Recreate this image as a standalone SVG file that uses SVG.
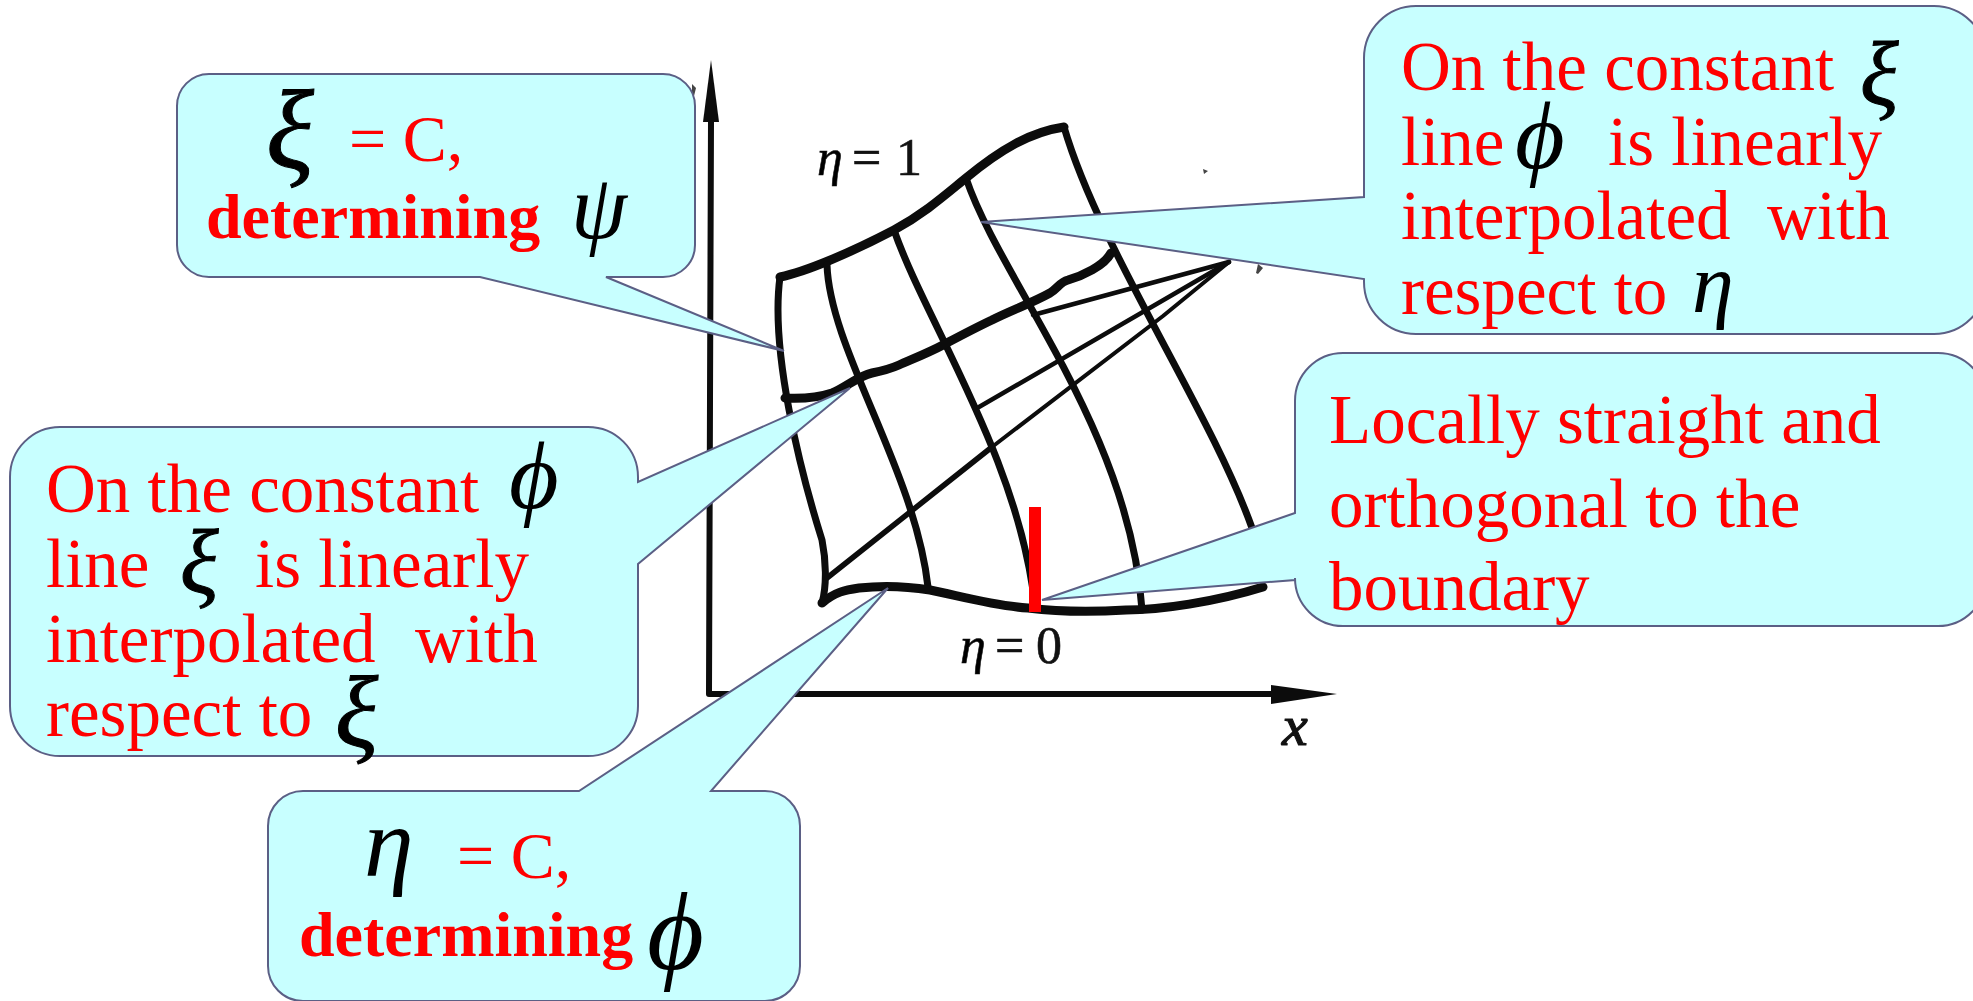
<svg xmlns="http://www.w3.org/2000/svg" width="1973" height="1001" viewBox="0 0 1973 1001">
<style>
text{font-family:"Liberation Serif","Times New Roman",serif}
.t{font-size:69px;fill:#f00}
.s{font-size:66px;fill:#f00}
.b{font-size:64px;fill:#f00;font-weight:bold}
.g{fill:#000;font-style:italic}
.x{stroke:#000;stroke-width:1}
.l{fill:#111;font-size:52px;stroke:#111;stroke-width:.6}
.c{fill:#c8ffff;stroke:#5b5f85;stroke-width:2;stroke-linejoin:miter}
.m{fill:none;stroke:#0c0c0c;stroke-linecap:round;stroke-linejoin:round}
</style>
<rect width="1973" height="1001" fill="#fff"/>
<g id="connectors">
<path class="m" stroke-width="6" d="M711 120L710 400L709 694L1275 694"/>
<path d="M711 60L703 122L719 122Z" fill="#0c0c0c"/>
<path d="M1337 694L1271 685L1271 704Z" fill="#0c0c0c"/>
<path class="m" stroke-width="9" d="M780 277C805 272 850 253 894 230C925 213 945 195 966 178C1000 150 1030 132 1064 127"/>
<path class="m" stroke-width="7" d="M780 277C770 350 800 470 822 540C826 560 827 585 822 603"/>
<path class="m" stroke-width="7" d="M827 265C830 350 915 470 928 587"/>
<path class="m" stroke-width="7" d="M894 230C925 320 1020 460 1035 607"/>
<path class="m" stroke-width="7" d="M966 178C1000 280 1130 430 1142 610"/>
<path class="m" stroke-width="7" d="M1064 127C1100 250 1210 410 1252 528"/>
<path class="m" stroke-width="9" d="M822 603C835 592 845 590 859 588C885 585 905 586 930 590C960 596 995 606 1028 608C1060 612 1095 612 1126 610C1160 610 1215 602 1263 587"/>
<path class="m" stroke-width="9" d="M785 398C805 399 820 397 832 393C845 388 858 376 872 373C882 371 890 369 899 365C915 358 930 352 943 345C960 336 975 328 992 320C1012 310 1032 303 1050 293C1058 288 1060 282 1068 280C1082 276 1104 266 1111 253"/>
<path class="m" stroke-width="4.5" d="M1229 262L1033 315"/>
<path class="m" stroke-width="4.5" d="M1229 262L979 407"/>
<path class="m" stroke-width="4" d="M1229 262L1163 316L992 447"/>
<path class="m" stroke-width="5.5" d="M992 447L827 578"/>
<path d="M1258 264l5 4-5 6-2-1zM692 84l4 4-2 8-2-1zM1203 169l5 2-4 3z" fill="#444"/>
<rect x="1029" y="507" width="12" height="105" fill="#f00"/>
</g>
<g id="label-eta1"><text class="l" x="817" y="175"><tspan class="g">η</tspan><tspan x="852">=</tspan><tspan x="896">1</tspan></text></g>
<g id="label-eta0"><text class="l" x="960" y="663"><tspan class="g">η</tspan><tspan x="995">=</tspan><tspan x="1036">0</tspan></text></g>
<g id="label-x"><text class="l g" x="1282" y="745" style="font-size:58px;stroke-width:1.2">x</text></g>
<g id="node-xi-c">
<path class="c" d="M209 74H663A32 32 0 0 1 695 106V245A32 32 0 0 1 663 277H606L784 351L480 277H209A32 32 0 0 1 177 245V106A32 32 0 0 1 209 74Z"/>
<text class="g x" x="266" y="168" font-size="112">ξ</text>
<text class="s" x="349" y="161">= C,</text>
<text class="b" x="206" y="238">determining</text>
<text class="g" x="571" y="238" font-size="90">ψ</text>
</g>
<g id="node-phi-line">
<path class="c" d="M60 427H588A50 50 0 0 1 638 477V482L850 388L638 564V706A50 50 0 0 1 588 756H60A50 50 0 0 1 10 706V477A50 50 0 0 1 60 427Z"/>
<text class="t" x="46" y="512">On the constant</text>
<text class="g" x="509" y="508" font-size="96">ϕ</text>
<text class="t" x="46" y="587">line</text>
<text class="g x" x="180" y="593" font-size="90">ξ</text>
<text class="t" x="255" y="587">is linearly</text>
<text class="t" x="46" y="662">interpolated</text>
<text class="t" x="415" y="662">with</text>
<text class="t" x="46" y="736">respect to</text>
<text class="g x" x="335" y="746" font-size="101">ξ</text>
</g>
<g id="node-eta-c">
<path class="c" d="M303 791H579L888 588L711 791H765A35 35 0 0 1 800 826V966A35 35 0 0 1 765 1001H303A35 35 0 0 1 268 966V826A35 35 0 0 1 303 791Z"/>
<text class="g" x="364" y="876" font-size="100">η</text>
<text class="s" x="457" y="878">= C,</text>
<text class="b" x="299" y="956">determining</text>
<text class="g" x="647" y="969" font-size="110">ϕ</text>
</g>
<g id="node-xi-line">
<path class="c" d="M1416 6H1934A52 52 0 0 1 1986 58V282A52 52 0 0 1 1934 334H1416A52 52 0 0 1 1364 282V279L981 222L1364 197V58A52 52 0 0 1 1416 6Z"/>
<text class="t" x="1401" y="90">On the constant</text>
<text class="g x" x="1860" y="105" font-size="90">ξ</text>
<text class="t" x="1401" y="165">line</text>
<text class="g" x="1515" y="168" font-size="96">ϕ</text>
<text class="t" x="1608" y="165">is linearly</text>
<text class="t" x="1401" y="239">interpolated</text>
<text class="t" x="1767" y="239">with</text>
<text class="t" x="1401" y="314">respect to</text>
<text class="g" x="1692" y="312" font-size="84">η</text>
</g>
<g id="node-locally">
<path class="c" d="M1343 353H1938A48 48 0 0 1 1986 401V578A48 48 0 0 1 1938 626H1343A48 48 0 0 1 1295 578V580L1042 600L1295 513V401A48 48 0 0 1 1343 353Z"/>
<text class="t" x="1329" y="443">Locally straight and</text>
<text class="t" x="1329" y="527">orthogonal to the</text>
<text class="t" x="1329" y="610">boundary</text>
</g>
</svg>
